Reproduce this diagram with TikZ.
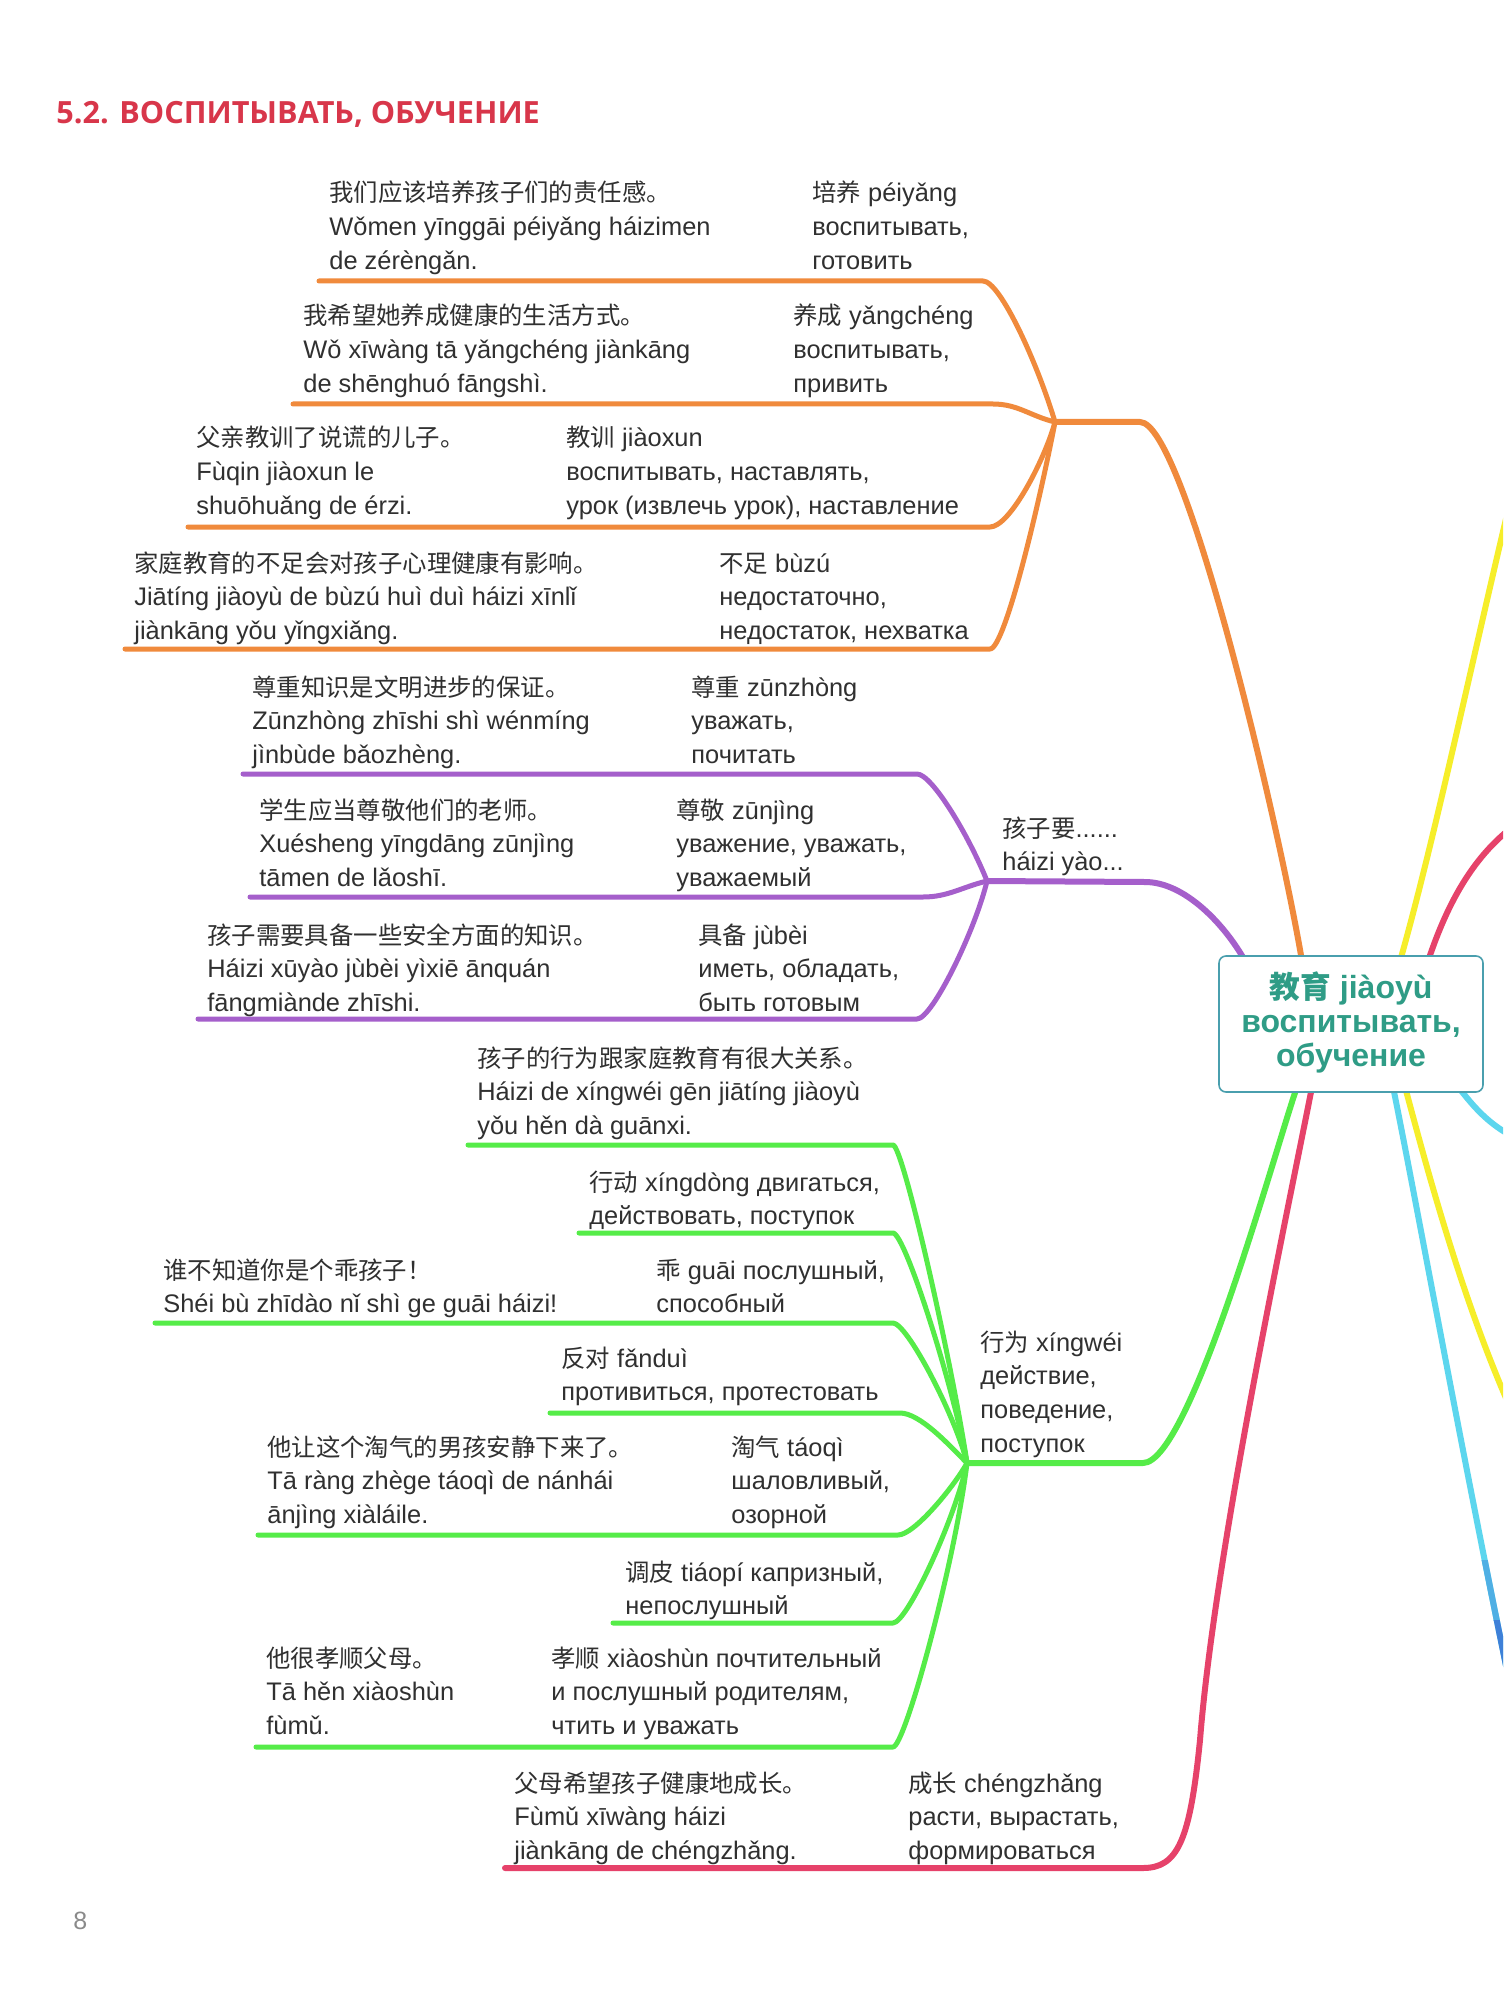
\documentclass[tikz,border=0pt]{standalone}
\usepackage{fontspec}
\setmainfont{Liberation Sans}
\newfontfamily\cjkfont[Scale=0.96]{Noto Sans CJK SC}
\newfontfamily\titlefont{Open Sans}
\usetikzlibrary{backgrounds,calc}
\definecolor{txtc}{HTML}{303030}
\definecolor{titlered}{HTML}{D8364A}
\definecolor{pagegray}{HTML}{8A8A8A}
\definecolor{corange}{HTML}{F08A3C}
\definecolor{cpurple}{HTML}{A55FCB}
\definecolor{cgreen}{HTML}{55EC48}
\definecolor{cred}{HTML}{E6426A}
\definecolor{cyellow}{HTML}{F6EE2A}
\definecolor{ccyan}{HTML}{5CD6EE}
\definecolor{cblue}{HTML}{3E80D8}
\definecolor{rootteal}{HTML}{2F9C86}
\definecolor{rootborder}{HTML}{4A9FAE}
\newcommand\zh[1]{{\cjkfont #1}}
\newcommand\mlines[1]{\begin{tabular}[t]{@{}l@{}}#1\end{tabular}}
\tikzset{
  txt/.style={inner sep=0pt, anchor=base west, text=txtc, font=\fontsize{12.7}{16.9}\selectfont},
  br/.style={line width=2.5pt, line cap=round, line join=round},
  mbr/.style={line width=3pt, line cap=round, line join=round},
  rootbox/.style={draw=rootborder, line width=0.8pt, fill=white, rounded corners=3.5pt,
    minimum width=132pt, minimum height=68pt, inner sep=0pt, text=rootteal,
    font=\bfseries\fontsize{16}{17}\selectfont},
}
\begin{document}
\begin{tikzpicture}[x=0.5pt,y=-0.5pt]
\useasboundingbox (0,0) rectangle (1503,2000);

% central node
\node[rootbox] (root) at (1351,1024) {\begin{tabular}{@{}c@{}}\zh{教育} jiàoyù\\воспитывать,\\обучение\end{tabular}};

% hubs
\coordinate (oh) at (1055,422);
\coordinate (ph) at (987,881);
\coordinate (gh) at (967,1463);

% underline coordinates
\coordinate (l1a) at (319,281);  \coordinate (l1b) at (983,281);
\coordinate (l2a) at (293,404);  \coordinate (l2b) at (993,404);
\coordinate (l3a) at (188,527);  \coordinate (l3b) at (990,527);
\coordinate (l4a) at (125,649);  \coordinate (l4b) at (990,649);
\coordinate (l5a) at (243,774);  \coordinate (l5b) at (917,774);
\coordinate (l6a) at (250,897);  \coordinate (l6b) at (923,897);
\coordinate (l7a) at (198,1019); \coordinate (l7b) at (917,1019);
\coordinate (l8a) at (468,1145); \coordinate (l8b) at (893,1145);
\coordinate (l9a) at (579,1233); \coordinate (l9b) at (893,1233);
\coordinate (l10a) at (155,1323); \coordinate (l10b) at (893,1323);
\coordinate (l11a) at (550,1413); \coordinate (l11b) at (900,1413);
\coordinate (l12a) at (258,1535); \coordinate (l12b) at (898,1535);
\coordinate (l13a) at (613,1623); \coordinate (l13b) at (893,1623);
\coordinate (l14a) at (256,1747); \coordinate (l14b) at (893,1747);
\coordinate (l15a) at (505,1868);

\begin{scope}[on background layer]
\fill[white] (0,0) rectangle (1503,2000);
\begin{scope}
\clip (0,0) rectangle (1503,2000);
% off-page branches on the right
\draw[mbr,cyellow] ($(root.north)+(49,6)$) .. controls (1440,820) and (1480,620) .. (1530,420);
\draw[mbr,cred] ($(root.north)+(77,6)$) .. controls (1450,895) and (1480,845) .. (1530,815);
\draw[mbr,ccyan] ($(root.south)+(107,-6)$) .. controls (1475,1108) and (1490,1128) .. (1530,1145);
\draw[mbr,cyellow] ($(root.south)+(54,-6)$) .. controls (1430,1180) and (1470,1330) .. (1530,1450);
\draw[mbr,ccyan] ($(root.south)+(42,-6)$) .. controls (1420,1220) and (1470,1500) .. (1530,1780);
\begin{scope}
\clip (1400,1560) rectangle (1503,1620);
\draw[mbr,cblue!45!ccyan] ($(root.south)+(42,-6)$) .. controls (1420,1220) and (1470,1500) .. (1530,1780);
\end{scope}
\begin{scope}
\clip (1400,1620) rectangle (1503,2000);
\draw[mbr,cblue] ($(root.south)+(42,-6)$) .. controls (1420,1220) and (1470,1500) .. (1530,1780);
\end{scope}
\end{scope}

% orange branch
\draw[mbr,corange] (oh) -- (1140,422) .. controls (1185,422) and (1280,830) .. ($(root.north)+(-49,6)$);
\draw[br,corange] (l1a) -- (l1b) .. controls +(17,0) and +(-18,-60) .. (oh);
\draw[br,corange] (l2a) -- (l2b) .. controls +(25,0) and +(-25,-6) .. (oh);
\draw[br,corange] (l3a) -- (l3b) .. controls +(20,0) and +(-10,37) .. (oh);
\draw[br,corange] (l4a) -- (l4b) .. controls +(15,0) and +(-15,78) .. (oh);

% purple branch
\draw[mbr,cpurple] (ph) -- (1145,882) .. controls (1185,882) and (1225,925) .. ($(root.north west)+(27,6)$);
\draw[br,cpurple] (l5a) -- (l5b) .. controls +(15,0) and +(-18,-45) .. (ph);
\draw[br,cpurple] (l6a) -- (l6b) .. controls +(25,0) and +(-25,6) .. (ph);
\draw[br,cpurple] (l7a) -- (l7b) .. controls +(15,0) and +(-12,50) .. (ph);

% green branch
\draw[mbr,cgreen] (gh) -- (1143,1463) .. controls (1190,1463) and (1275,1150) .. ($(root.south)+(-54,-6)$);
\draw[br,cgreen] (l8a) -- (l8b) .. controls +(10,0) and +(-15,-100) .. (gh);
\draw[br,cgreen] (l9a) -- (l9b) .. controls +(12,0) and +(-13,-75) .. (gh);
\draw[br,cgreen] (l10a) -- (l10b) .. controls +(14,0) and +(-12,-48) .. (gh);
\draw[br,cgreen] (l11a) -- (l11b) .. controls +(20,0) and +(-18,-18) .. (gh);
\draw[br,cgreen] (l12a) -- (l12b) .. controls +(16,0) and +(-14,25) .. (gh);
\draw[br,cgreen] (l13a) -- (l13b) .. controls +(14,0) and +(-12,56) .. (gh);
\draw[br,cgreen] (l14a) -- (l14b) .. controls +(12,0) and +(-12,99) .. (gh);

% red branch
\draw[mbr,cred] ($(root.south)+(-39,-6)$) .. controls (1290,1200) and (1215,1550) .. (1200,1740)
   .. controls (1190,1840) and (1178,1868) .. (1143,1868) -- (l15a);
\end{scope}

% title and page number
\node[anchor=base west, inner sep=0pt, text=titlered, font=\titlefont\bfseries\fontsize{15.3}{17}\selectfont] (title) at (56,124) {5.2. ВОСПИТЫВАТЬ, ОБУЧЕНИЕ};
\node[anchor=base west, inner sep=0pt, text=pagegray, font=\fontsize{12.5}{14}\selectfont] (pnum) at (73,1929) {8};

% orange texts
\node[txt] (g1a) at (329,202) {\mlines{\zh{我们应该培养孩子们的责任感。}\\Wǒmen yīnggāi péiyǎng háizimen\\de zérèngǎn.}};
\node[txt] (g1b) at (812,202) {\mlines{\zh{培养} péiyǎng\\воспитывать,\\готовить}};
\node[txt] (g2a) at (303,325) {\mlines{\zh{我希望她养成健康的生活方式。}\\Wǒ xīwàng tā yǎngchéng jiànkāng\\de shēnghuó fāngshì.}};
\node[txt] (g2b) at (793,325) {\mlines{\zh{养成} yǎngchéng\\воспитывать,\\привить}};
\node[txt] (g3a) at (196,447) {\mlines{\zh{父亲教训了说谎的儿子。}\\Fùqin jiàoxun le\\shuōhuǎng de érzi.}};
\node[txt] (g3b) at (566,447) {\mlines{\zh{教训} jiàoxun\\воспитывать, наставлять,\\урок (извлечь урок), наставление}};
\node[txt] (g4a) at (134,572) {\mlines{\zh{家庭教育的不足会对孩子心理健康有影响。}\\Jiātíng jiàoyù de bùzú huì duì háizi xīnlǐ\\jiànkāng yǒu yǐngxiǎng.}};
\node[txt] (g4b) at (719,572) {\mlines{\zh{不足} bùzú\\недостаточно,\\недостаток, нехватка}};

% purple texts
\node[txt] (g5a) at (252,696) {\mlines{\zh{尊重知识是文明进步的保证。}\\Zūnzhòng zhīshi shì wénmíng\\jìnbùde bǎozhèng.}};
\node[txt] (g5b) at (691,696) {\mlines{\zh{尊重} zūnzhòng\\уважать,\\почитать}};
\node[txt] (g6a) at (259,819) {\mlines{\zh{学生应当尊敬他们的老师。}\\Xuésheng yīngdāng zūnjìng\\tāmen de lǎoshī.}};
\node[txt] (g6b) at (676,819) {\mlines{\zh{尊敬} zūnjìng\\уважение, уважать,\\уважаемый}};
\node[txt] (g7a) at (207,944) {\mlines{\zh{孩子需要具备一些安全方面的知识。}\\Háizi xūyào jùbèi yìxiē ānquán\\fāngmiànde zhīshi.}};
\node[txt] (g7b) at (698,944) {\mlines{\zh{具备} jùbèi\\иметь, обладать,\\быть готовым}};
\node[txt] (ph-label) at (1002,837) {\mlines{\zh{孩子要}......\\háizi yào...}};

% green texts
\node[txt] (g8a) at (477,1067) {\mlines{\zh{孩子的行为跟家庭教育有很大关系。}\\Háizi de xíngwéi gēn jiātíng jiàoyù\\yǒu hěn dà guānxi.}};
\node[txt] (g9a) at (589,1191) {\mlines{\zh{行动} xíngdòng двигаться,\\действовать, поступок}};
\node[txt] (g10a) at (163,1279) {\mlines{\zh{谁不知道你是个乖孩子！}\\Shéi bù zhīdào nǐ shì ge guāi háizi!}};
\node[txt] (g10b) at (656,1279) {\mlines{\zh{乖} guāi послушный,\\способный}};
\node[txt] (g11a) at (561,1367) {\mlines{\zh{反对} fǎnduì\\противиться, протестовать}};
\node[txt] (gh-label) at (980,1351) {\mlines{\zh{行为} xíngwéi\\действие,\\поведение,\\поступок}};
\node[txt] (g12a) at (267,1456) {\mlines{\zh{他让这个淘气的男孩安静下来了。}\\Tā ràng zhège táoqì de nánhái\\ānjìng xiàláile.}};
\node[txt] (g12b) at (731,1456) {\mlines{\zh{淘气} táoqì\\шаловливый,\\озорной}};
\node[txt] (g13a) at (625,1581) {\mlines{\zh{调皮} tiáopí капризный,\\непослушный}};
\node[txt] (g14a) at (266,1667) {\mlines{\zh{他很孝顺父母。}\\Tā hěn xiàoshùn\\fùmǔ.}};
\node[txt] (g14b) at (551,1667) {\mlines{\zh{孝顺} xiàoshùn почтительный\\и послушный родителям,\\чтить и уважать}};

% red texts
\node[txt] (g15a) at (514,1792) {\mlines{\zh{父母希望孩子健康地成长。}\\Fùmǔ xīwàng háizi\\jiànkāng de chéngzhǎng.}};
\node[txt] (g15b) at (908,1792) {\mlines{\zh{成长} chéngzhǎng\\расти, вырастать,\\формироваться}};
\end{tikzpicture}
\end{document}
